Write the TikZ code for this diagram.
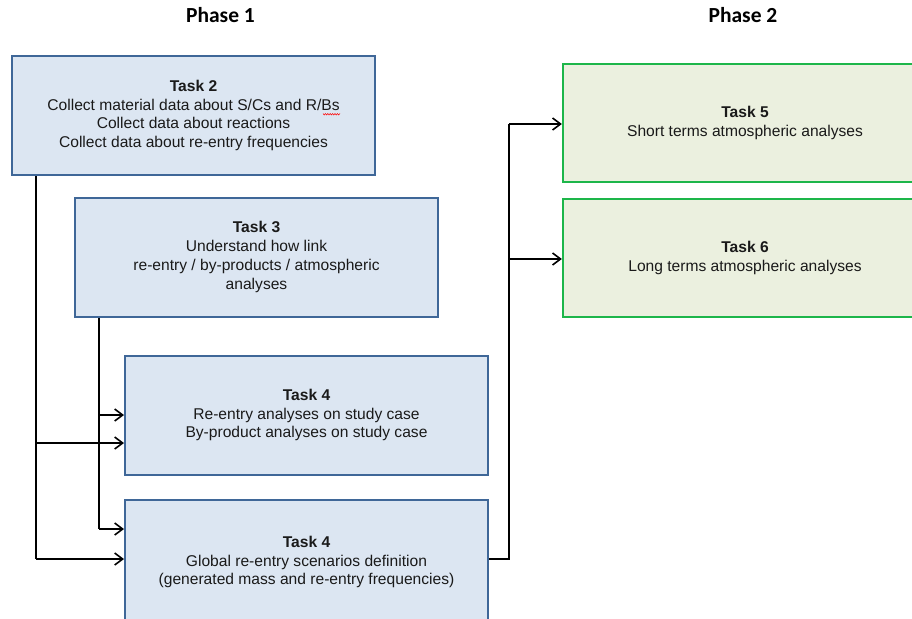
\documentclass[tikz,border=0pt]{standalone}
\usepackage{fontspec}
\setmainfont{Liberation Sans}
\newfontfamily\headfont{Carlito}
\usetikzlibrary{arrows.meta}
\definecolor{taskblue}{HTML}{DCE6F2}
\definecolor{taskblueline}{HTML}{3F6798}
\definecolor{taskgreen}{HTML}{EBF0DF}
\definecolor{taskgreenline}{HTML}{1DB64A}
\definecolor{inktext}{HTML}{1A1A1A}
\tikzset{
  phasetitle/.style={font=\headfont\bfseries\fontsize{21.5}{25}\selectfont, text=black},
  taskbox/.style={draw=taskblueline, fill=taskblue, line width=2pt,
    minimum width=363pt, minimum height=119pt, inner sep=0pt, text=inktext,
    align=center, font=\fontsize{15.6}{18.8}\selectfont,
    execute at begin node={\rule{0pt}{15.5pt}}},
  greenbox/.style={taskbox, draw=taskgreenline, fill=taskgreen, line width=2.2pt},
  flow/.style={draw=black, line width=1.6pt,
    -{Straight Barb[length=8pt,width=12pt,line width=1.6pt]}},
  trunk/.style={draw=black, line width=1.6pt}
}
\begin{document}
\begin{tikzpicture}[x=1pt, y=-1pt]
  \clip (0,0) rectangle (912,618);
  \fill[white] (0,0) rectangle (912,618);

  % phase headings
  \node[phasetitle] (ph1) at (220.5,15) {Phase 1};
  \node[phasetitle] (ph2) at (743,15) {Phase 2};

  % phase 1 tasks
  \node[taskbox] (t2) at (193.5,115.5)
    {\textbf{Task 2}\\Collect material data about S/Cs and R/Bs\\Collect data about reactions\\Collect data about re-entry frequencies};
  \node[taskbox] (t3) at (256.5,257)
    {\textbf{Task 3}\\Understand how link\\re-entry / by-products / atmospheric\\analyses};
  \node[taskbox] (t4a) at (306.5,415)
    {\textbf{Task 4}\\Re-entry analyses on study case\\By-product analyses on study case};
  \node[taskbox, minimum height=124pt] (t4b) at (306.5,562)
    {\textbf{Task 4}\\Global re-entry scenarios definition\\(generated mass and re-entry frequencies)};
  % red spell-check mark under "Bs"
  \draw[red, line width=0.5pt]
    (323,113.5) -- (324.2,115) -- (325.4,113.5) -- (326.6,115) -- (327.8,113.5)
    -- (329,115) -- (330.2,113.5) -- (331.4,115) -- (332.6,113.5) -- (333.8,115)
    -- (335,113.5) -- (336.2,115) -- (337.4,113.5) -- (338.6,115) -- (340,113.5);

  % phase 2 tasks
  \node[greenbox, minimum width=364pt, minimum height=118pt] (t5) at (745,123)
    {\textbf{Task 5}\\Short terms atmospheric analyses};
  \node[greenbox, minimum width=364pt, minimum height=118pt] (t6) at (745,258)
    {\textbf{Task 6}\\Long terms atmospheric analyses};

  % branch points
  \coordinate (a) at (36,0);
  \coordinate (b) at (99,0);
  \coordinate (c) at (509,0);

  % trunk from task 2
  \draw[trunk] (a |- t2.south) -- (a |- 0,559);
  \draw[flow] (a |- 0,443) -- (t4a.west |- 0,443);
  \draw[flow] (a |- 0,559) -- (t4b.west |- 0,559);

  % trunk from task 3
  \draw[trunk] (b |- t3.south) -- (b |- 0,529);
  \draw[flow] (b |- 0,415) -- (t4a.west |- 0,415);
  \draw[flow] (b |- 0,529) -- (t4b.west |- 0,529);

  % output of global scenarios to phase 2
  \draw[trunk] (t4b.east |- 0,559) -- (c |- 0,559) -- (c |- 0,124);
  \draw[flow] (c |- 0,124) -- (t5.west |- 0,124);
  \draw[flow] (c |- 0,259) -- (t6.west |- 0,259);
\end{tikzpicture}
\end{document}
